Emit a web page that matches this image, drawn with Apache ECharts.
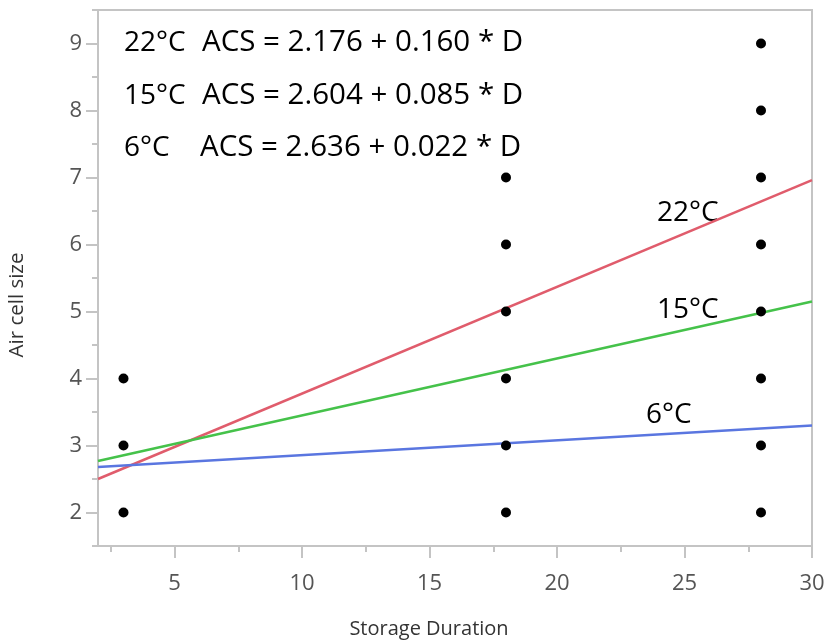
<!DOCTYPE html>
<html>
<head>
<meta charset="utf-8">
<title>Air cell size vs storage duration</title>
<script src="https://cdn.jsdelivr.net/npm/echarts@6/dist/echarts.min.js"></script>
<style>
  html, body { margin: 0; padding: 0; background: #fff; }
  #main { width: 831px; height: 644px; }
</style>
</head>
<body>
<div id="main"></div>
<script>
// observed points (storage duration, air cell size)
const points = [
  [3, 2], [3, 3], [3, 4],
  [18, 2], [18, 3], [18, 4], [18, 5], [18, 6], [18, 7],
  [28, 2], [28, 3], [28, 4], [28, 5], [28, 6], [28, 7], [28, 8], [28, 9]
];

// fitted lines, end values read at D = 2 and D = 30
const line22 = [[2, 2.50], [30, 6.96]];
const line15 = [[2, 2.77], [30, 5.15]];
const line6 = [[2, 2.68], [30, 3.30]];

const xMajorTicks = [5, 10, 15, 20, 25, 30];
const xMinorTicks = [2.5, 7.5, 12.5, 17.5, 22.5, 27.5];
const yMajorTicks = [2, 3, 4, 5, 6, 7, 8, 9];
const yMinorTicks = [1.5, 2.5, 3.5, 4.5, 5.5, 6.5, 7.5, 8.5, 9.5];

const equations = [
  ["22°C", "ACS = 2.176 + 0.160 * D"],
  ["15°C", "ACS = 2.604 + 0.085 * D"],
  ["6°C", "ACS = 2.636 + 0.022 * D"]
];

const chart = echarts.init(document.getElementById("main"));

const axisGrey = "#c4c4c4";
const labelFont = "Open Sans";

function txt(text, x, y, size) {
  return {
    type: "text",
    x: x,
    y: y,
    style: {
      text: text,
      fontFamily: labelFont,
      fontSize: size,
      fontWeight: 500,
      fill: "#000",
      align: "left",
      verticalAlign: "middle"
    }
  };
}

const rowY = [43, 96, 148];
const graphics = [];
equations.forEach((e, i) => {
  graphics.push(txt(e[0], 124, rowY[i], 28));
  graphics.push(txt(e[1], i === 2 ? 200 : 202, rowY[i], 29.5));
});
graphics.push(txt("22°C", 657, 213, 28));
graphics.push(txt("15°C", 657, 310, 28));
graphics.push(txt("6°C", 646, 415, 28));
graphics.push({
  type: "text", x: 429, y: 629,
  style: { text: "Storage Duration", fontFamily: labelFont, fontSize: 20, fill: "#333", align: "center", verticalAlign: "middle" }
});
graphics.push({
  type: "text", x: 17, y: 305, rotation: Math.PI / 2,
  style: { text: "Air cell size", fontFamily: labelFont, fontSize: 20.5, fill: "#333", align: "center", verticalAlign: "middle" }
});

chart.setOption({
  animation: false,
  backgroundColor: "#fff",
  grid: {
    left: 98, right: 19, top: 10, bottom: 98,
    show: true, borderColor: axisGrey, borderWidth: 2, backgroundColor: "#fff"
  },
  xAxis: [
    {
      type: "value", min: 2, max: 30,
      axisLine: { show: true, lineStyle: { color: axisGrey, width: 2 } },
      axisTick: { show: true, length: 12, customValues: xMajorTicks, lineStyle: { color: axisGrey, width: 2 } },
      axisLabel: { customValues: xMajorTicks, margin: 27, fontFamily: labelFont, fontSize: 22, color: "#555" },
      splitLine: { show: false }
    },
    {
      type: "value", min: 2, max: 30, position: "bottom",
      axisLine: { show: false },
      axisTick: { show: true, length: 6, customValues: xMinorTicks, lineStyle: { color: axisGrey, width: 2 } },
      axisLabel: { show: false },
      splitLine: { show: false }
    }
  ],
  yAxis: [
    {
      type: "value", min: 1.5, max: 9.5,
      axisLine: { show: true, lineStyle: { color: axisGrey, width: 2 } },
      axisTick: { show: true, length: 12, customValues: yMajorTicks, lineStyle: { color: axisGrey, width: 2 } },
      axisLabel: { customValues: yMajorTicks, margin: 16, fontFamily: labelFont, fontSize: 22, color: "#555" },
      splitLine: { show: false }
    },
    {
      type: "value", min: 1.5, max: 9.5, position: "left",
      axisLine: { show: false },
      axisTick: { show: true, length: 6, customValues: yMinorTicks, lineStyle: { color: axisGrey, width: 2 } },
      axisLabel: { show: false },
      splitLine: { show: false }
    }
  ],
  graphic: graphics,
  series: [
    {
      name: "22°C", type: "line", data: line22, symbol: "none",
      lineStyle: { color: "#e05c6c", width: 2.5 }, z: 3
    },
    {
      name: "15°C", type: "line", data: line15, symbol: "none",
      lineStyle: { color: "#45c24a", width: 2.5 }, z: 3
    },
    {
      name: "6°C", type: "line", data: line6, symbol: "none",
      lineStyle: { color: "#5a76e0", width: 2.5 }, z: 3
    },
    {
      name: "points", type: "scatter", data: points,
      symbolSize: 10, itemStyle: { color: "#000", opacity: 1 }, z: 4
    }
  ]
});
</script>
</body>
</html>
